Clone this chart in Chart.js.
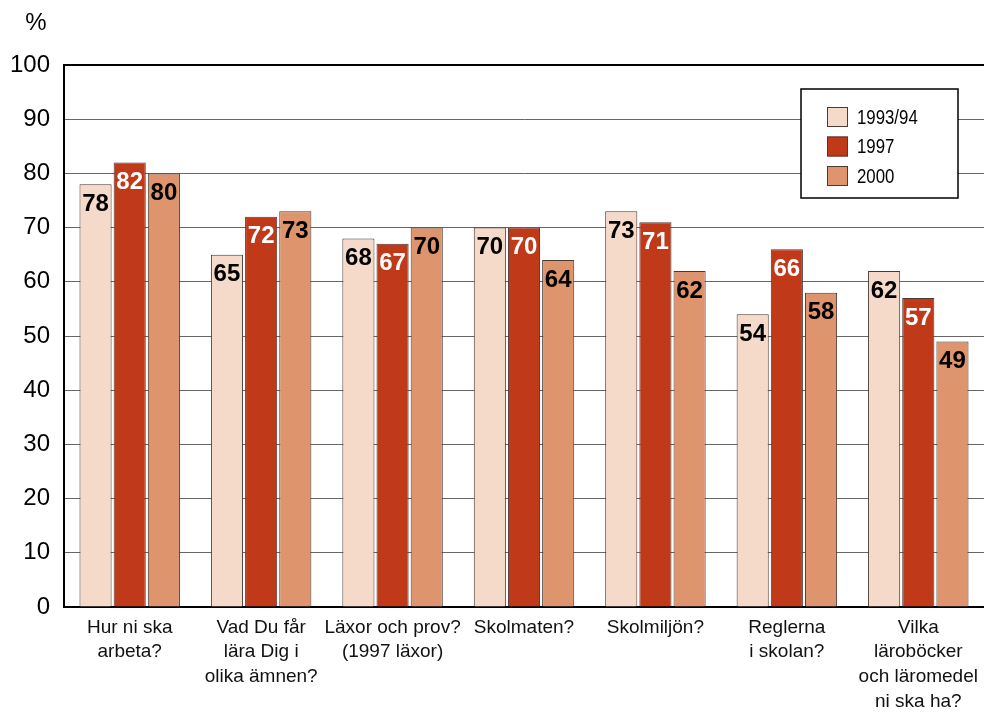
<!DOCTYPE html>
<html>
<head>
<meta charset="utf-8">
<script src="https://cdn.jsdelivr.net/npm/chart.js@4"></script>
<style>
    html, body { margin: 0; padding: 0; background: #fff; }
    #wrap { width: 984px; height: 715px; }
</style>
</head>
<body>
<div id="wrap"><canvas id="chart" width="984" height="715"></canvas></div>
<script>
// Survey answers per question, share in percent
const categories = [
    ['Hur ni ska', 'arbeta?'],
    ['Vad Du får', 'lära Dig i', 'olika ämnen?'],
    ['Läxor och prov?', '(1997 läxor)'],
    ['Skolmaten?'],
    ['Skolmiljön?'],
    ['Reglerna', 'i skolan?'],
    ['Vilka', 'läroböcker', 'och läromedel', 'ni ska ha?'],
];
const seriesNames = ['1993/94', '1997', '2000'];
const values1993 = [78, 65, 68, 70, 73, 54, 62];
const values1997 = [82, 72, 67, 70, 71, 66, 57];
const values2000 = [80, 73, 70, 64, 62, 58, 49];
const yTicks = [0, 10, 20, 30, 40, 50, 60, 70, 80, 90, 100];

const COLORS = ['#f5dac9', '#c03a1a', '#de946d'];
const LABEL_COLORS = ['#000', '#fff', '#000'];
const SANS = "'Liberation Sans', Arial, sans-serif";

/**
 * Value labels inside the top of each bar
 */
const valueLabels = {
    id: 'valueLabels',
    afterDatasetsDraw(chart) {
        const ctx = chart.ctx;
        ctx.save();
        ctx.font = `bold 24px ${SANS}`;
        ctx.textAlign = 'center';
        ctx.textBaseline = 'middle';
        chart.data.datasets.forEach((ds, i) => {
            chart.getDatasetMeta(i).data.forEach((bar, j) => {
                ctx.fillStyle = LABEL_COLORS[i];
                ctx.fillText(String(ds.data[j]), bar.x, bar.y + 20);
            });
        });
        ctx.restore();
    },
};

/**
 * Boxed legend in the upper right and the % unit
 */
const boxLegend = {
    id: 'boxLegend',
    afterDraw(chart) {
        const ctx = chart.ctx;
        ctx.save();

        ctx.fillStyle = '#000';
        ctx.font = `24px ${SANS}`;
        ctx.textAlign = 'center';
        ctx.textBaseline = 'middle';
        ctx.fillText('%', 36, 23);

        const x = 801, y = 89, w = 157, h = 109;
        ctx.fillStyle = '#fff';
        ctx.fillRect(x, y, w, h);
        ctx.strokeStyle = '#000';
        ctx.lineWidth = 1.5;
        ctx.strokeRect(x, y, w, h);

        ctx.font = `21px ${SANS}`;
        ctx.textAlign = 'left';
        chart.data.datasets.forEach((ds, i) => {
            const sy = 107 + i * 29.5;
            ctx.fillStyle = ds.backgroundColor;
            ctx.fillRect(827, sy, 21, 20);
            ctx.strokeStyle = '#4a3a34';
            ctx.lineWidth = 1;
            ctx.strokeRect(827.5, sy + 0.5, 20, 19);
            // condensed look for the legend text
            ctx.save();
            ctx.translate(857, sy + 11);
            ctx.scale(0.8, 1);
            ctx.fillStyle = '#000';
            ctx.fillText(ds.label, 0, 0);
            ctx.restore();
        });
        ctx.restore();
    },
};

const datasets = [values1993, values1997, values2000].map((vals, i) => ({
    label: seriesNames[i],
    data: vals,
    backgroundColor: COLORS[i],
    borderColor: '#4a3a34',
    borderWidth: 1,
    categoryPercentage: 0.78,
    barPercentage: 0.94,
}));

new Chart(document.getElementById('chart'), {
    type: 'bar',
    data: { labels: categories, datasets },
    plugins: [valueLabels, boxLegend],
    options: {
        responsive: false,
        animation: false,
        layout: { padding: { top: 65, right: 0, left: 0, bottom: 0 } },
        plugins: {
            legend: { display: false },
            tooltip: { enabled: false },
        },
        scales: {
            x: {
                afterFit: (scale) => {
                    scale.height = 108;
                    scale.paddingLeft = 0;
                    scale.paddingRight = 0;
                },
                grid: { display: true, drawOnChartArea: false, drawTicks: false },
                border: { display: true, color: '#000', width: 2 },
                ticks: {
                    color: '#111',
                    padding: 8,
                    maxRotation: 0,
                    autoSkip: false,
                    font: { family: SANS, size: 19, lineHeight: 1.3 },
                },
            },
            y: {
                min: 0,
                max: 100,
                afterFit: (scale) => { scale.width = 64; },
                afterBuildTicks: (scale) => { scale.ticks = yTicks.map(v => ({ value: v })); },
                grid: {
                    drawTicks: false,
                    color: (c) => (c.tick && c.tick.value === 100 ? '#000' : '#666'),
                    lineWidth: (c) => (c.tick && c.tick.value === 100 ? 2 : 1),
                },
                border: { display: true, color: '#000', width: 2 },
                ticks: {
                    color: '#000',
                    padding: 14,
                    font: { family: SANS, size: 24 },
                },
            },
        },
    },
});
</script>
</body>
</html>
